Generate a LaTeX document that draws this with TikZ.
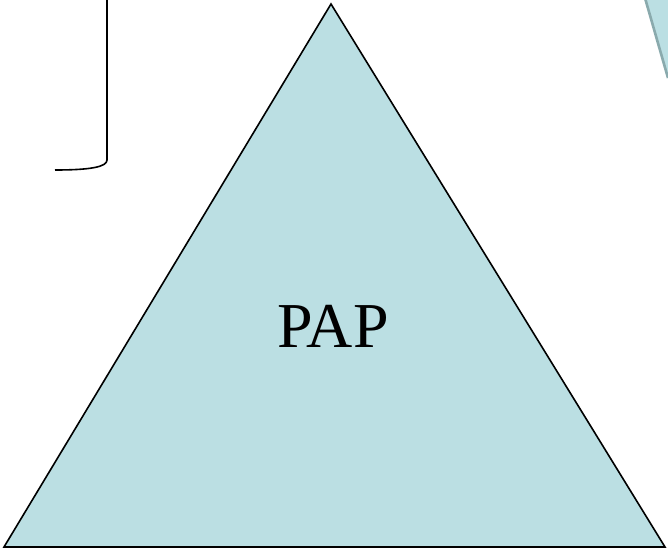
\documentclass[tikz,border=0pt]{standalone}
\usepackage{fontspec}
\setmainfont{Liberation Serif}
\definecolor{tri}{HTML}{BBDFE3}
\definecolor{edgegray}{HTML}{8AAAAD}
\begin{document}
\begin{tikzpicture}[x=1pt,y=-1pt]
\useasboundingbox (0,0) rectangle (668,553);
\tikzset{bracket/.style={draw=black,line width=1.6pt},
  trishape/.style={fill=tri,draw=black,line width=1.6pt,line join=miter}}
% top-right partial shape
\fill[tri] (645,0) -- (668,0) -- (668,78) -- cycle;
\draw[edgegray,line width=2.6pt] (645,-2) -- (668,78);
% bracket
\draw[bracket] (107,0) -- (107,160) .. controls (107,167) and (90,170) .. (55,170);
% triangle
\draw[trishape] (331,4) coordinate (apex) -- (665,547) coordinate (br) -- (4,547) coordinate (bl) -- cycle;
\node[font=\fontsize{64}{64}\selectfont,inner sep=0pt] (lab) at (333,326) {PAP};
\end{tikzpicture}
\end{document}
